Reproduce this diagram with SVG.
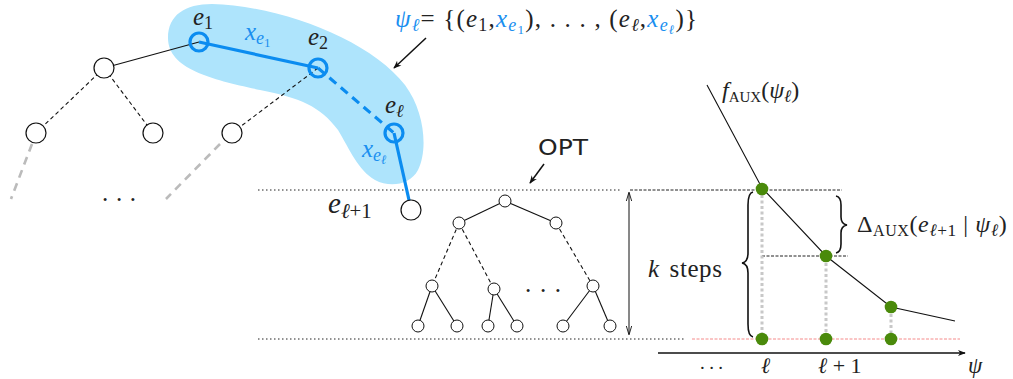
<svg xmlns="http://www.w3.org/2000/svg" width="1013" height="379" viewBox="0 0 1013 379">
<style>
text{font-family:"Liberation Serif","DejaVu Serif","Times New Roman",serif;fill:#222}
text.sans{font-family:"DejaVu Sans","Liberation Sans",sans-serif}
.i{font-style:italic}
.s{font-size:72%}
.bl{fill:#1a8ff0}
.blk{fill:#fff;stroke:#111;stroke-width:1.2}
.bn{fill:none;stroke:#0b8cf0;stroke-width:3.2}
.be{stroke:#0b8cf0;stroke-width:3.2;fill:none}
.te{stroke:#111;stroke-width:1.1;fill:none}
.dash{stroke-dasharray:4 3}
.gr{stroke:#bbb;stroke-width:2.6;stroke-dasharray:8 6;fill:none}
.gv{stroke:#c8c8c8;stroke-width:3;stroke-dasharray:3 2.5;fill:none}
.gd{fill:#4a8a0b}
.on{fill:#fff;stroke:#111;stroke-width:1}
</style>
<defs>
<marker id="ah" viewBox="0 0 10 10" refX="9" refY="5" markerWidth="8" markerHeight="8" orient="auto" markerUnits="userSpaceOnUse">
<path d="M0,1 L10,5 L0,9 L3,5 Z" fill="#111"/>
</marker>
<marker id="ah2" viewBox="0 0 10 10" refX="9" refY="5" markerWidth="9" markerHeight="9" orient="auto-start-reverse" markerUnits="userSpaceOnUse">
<path d="M0,2 L10,5 L0,8" fill="none" stroke="#111" stroke-width="1"/>
</marker>
</defs>

<!-- highlight blob -->
<path id="blob" d="M168,38 C168,15 185,4 212,4 C282,6 370,40 405,85 C425,112 428,150 418,170 C410,185 390,188 375,180 C358,170 350,150 338,130 C320,106 300,98 260,90 C215,80 168,70 168,38 Z" fill="#aee4fc"/>

<!-- reference lines -->
<g id="guides" fill="none">
<line x1="258" y1="190" x2="622" y2="190" stroke="#222" stroke-width="1" stroke-dasharray="1.5 2.5"/>
<line x1="630" y1="190" x2="842" y2="190" stroke="#222" stroke-width="1" stroke-dasharray="3 1.5"/>
<line x1="258" y1="339" x2="686" y2="339" stroke="#222" stroke-width="1" stroke-dasharray="1.5 2.5"/>
<line x1="692" y1="339" x2="960" y2="339" stroke="#f58a8a" stroke-width="1" stroke-dasharray="3 1.5"/>
<line x1="762" y1="256" x2="848" y2="256" stroke="#222" stroke-width="1" stroke-dasharray="3 1.5"/>
</g>

<g id="connectors">
<line class="te" x1="104" y1="68" x2="199" y2="42"/>
<line class="te dash" x1="104" y1="68" x2="36" y2="133"/>
<line class="te dash" x1="104" y1="68" x2="153" y2="133"/>
<line class="te dash" x1="318" y1="68" x2="232" y2="133"/>
<line class="gr" x1="32" y1="144" x2="11" y2="199"/>
<line class="gr" x1="220" y1="144" x2="166" y2="199"/>
<line class="be" x1="199" y1="42" x2="318" y2="68"/>
<line class="be" x1="318" y1="68" x2="394" y2="133" stroke-dasharray="9 6"/>
<line class="be" x1="394" y1="133" x2="411" y2="209"/>
<line class="te" x1="505" y1="201" x2="459" y2="223"/>
<line class="te" x1="505" y1="201" x2="556" y2="223"/>
<line class="te dash" x1="459" y1="223" x2="432" y2="286"/>
<line class="te dash" x1="459" y1="223" x2="494" y2="289"/>
<line class="te dash" x1="556" y1="223" x2="593" y2="286"/>
<line class="te" x1="432" y1="286" x2="418" y2="326"/>
<line class="te" x1="432" y1="286" x2="457" y2="326"/>
<line class="te" x1="494" y1="289" x2="488" y2="326"/>
<line class="te" x1="494" y1="289" x2="517" y2="326"/>
<line class="te" x1="593" y1="286" x2="563" y2="326"/>
<line class="te" x1="593" y1="286" x2="610" y2="326"/>
<line x1="426" y1="38" x2="394" y2="68" stroke="#111" stroke-width="1.5" marker-end="url(#ah)"/>
<line x1="544" y1="164" x2="530" y2="183" stroke="#111" stroke-width="1.5" marker-end="url(#ah)"/>
<line x1="629" y1="193" x2="629" y2="334" stroke="#111" stroke-width="1" marker-start="url(#ah2)" marker-end="url(#ah2)"/>
<line x1="658" y1="353" x2="965" y2="353" stroke="#111" stroke-width="1.3" marker-end="url(#ah)"/>
<polyline points="707,85 762,188 826,256 891,307 955,321" fill="none" stroke="#111" stroke-width="1.1"/>
<line class="gv" x1="762" y1="195" x2="762" y2="333"/>
<line class="gv" x1="826" y1="263" x2="826" y2="333"/>
<line class="gv" x1="891" y1="314" x2="891" y2="333"/>
<path d="M753,192 Q748,193 748,205 L748,253 Q748,262 742,263 Q748,264 748,273 L748,324 Q748,336 753,337" fill="none" stroke="#111" stroke-width="1.6"/>
<path d="M836,196 Q841,197 841,205 L841,217 Q841,224 847,225 Q841,226 841,233 L841,244 Q841,252 836,253" fill="none" stroke="#111" stroke-width="1.6"/>
</g>

<g id="n-root"><circle class="blk" cx="104" cy="68" r="10"/></g>
<g id="n-a"><circle class="blk" cx="36" cy="133" r="10"/></g>
<g id="n-b"><circle class="blk" cx="153" cy="133" r="10"/></g>
<g id="n-c"><circle class="blk" cx="232" cy="133" r="10"/></g>
<g id="n-e1"><circle class="bn" cx="199" cy="42" r="9"/></g>
<g id="n-e2"><circle class="bn" cx="318" cy="68" r="9"/></g>
<g id="n-el"><circle class="bn" cx="394" cy="133" r="9"/></g>
<g id="n-el1"><circle class="blk" cx="411" cy="210" r="10"/></g>

<g id="o1"><circle class="on" cx="505" cy="201" r="6"/></g>
<g id="o2"><circle class="on" cx="459" cy="223" r="6"/></g>
<g id="o3"><circle class="on" cx="556" cy="223" r="6"/></g>
<g id="o4"><circle class="on" cx="432" cy="286" r="6"/></g>
<g id="o5"><circle class="on" cx="494" cy="289" r="6"/></g>
<g id="o6"><circle class="on" cx="593" cy="286" r="6"/></g>
<g id="o7"><circle class="on" cx="418" cy="326" r="6"/></g>
<g id="o8"><circle class="on" cx="457" cy="326" r="6"/></g>
<g id="o9"><circle class="on" cx="488" cy="326" r="6"/></g>
<g id="o10"><circle class="on" cx="517" cy="326" r="6"/></g>
<g id="o11"><circle class="on" cx="563" cy="326" r="6"/></g>
<g id="o12"><circle class="on" cx="610" cy="326" r="6"/></g>

<g id="g1"><circle class="gd" cx="762" cy="189" r="6.3"/></g>
<g id="g2"><circle class="gd" cx="826" cy="256" r="6.3"/></g>
<g id="g3"><circle class="gd" cx="891" cy="307" r="6.3"/></g>
<g id="g4"><circle class="gd" cx="762" cy="339" r="6.3"/></g>
<g id="g5"><circle class="gd" cx="826" cy="339" r="6.3"/></g>
<g id="g6"><circle class="gd" cx="891" cy="339" r="6.3"/></g>

<g id="labels" font-size="25">
<text x="193" y="25"><tspan class="i">e</tspan><tspan class="s" dy="4">1</tspan></text>
<text x="245" y="40"><tspan class="i bl">x</tspan><tspan class="s i bl" dy="4">e</tspan><tspan class="bl" font-size="13" dy="3">1</tspan></text>
<text x="308" y="45"><tspan class="i">e</tspan><tspan class="s" dy="4">2</tspan></text>
<text x="385" y="113"><tspan class="i">e</tspan><tspan class="s i" dy="4">ℓ</tspan></text>
<text x="362" y="157"><tspan class="i bl">x</tspan><tspan class="s i bl" dy="4">e</tspan><tspan class="i bl" font-size="13" dy="3">ℓ</tspan></text>
<text x="328" y="213" font-size="29"><tspan class="i">e</tspan><tspan class="s i" dy="5">ℓ</tspan><tspan class="s">+1</tspan></text>
<text x="102" y="201" textLength="34" lengthAdjust="spacing">...</text>

<text x="395" y="27" textLength="302" lengthAdjust="spacing"><tspan class="i bl">ψ</tspan><tspan class="s i bl" dy="4">ℓ</tspan><tspan dy="-4">= {(</tspan><tspan class="i">e</tspan><tspan class="s" dy="4">1</tspan><tspan dy="-4">,</tspan><tspan class="i bl">x</tspan><tspan class="s i bl" dy="4">e</tspan><tspan class="bl" font-size="13" dy="3">1</tspan><tspan dy="-7">), . . . , (</tspan><tspan class="i">e</tspan><tspan class="s i" dy="4">ℓ</tspan><tspan dy="-4">,</tspan><tspan class="i bl">x</tspan><tspan class="s i bl" dy="4">e</tspan><tspan class="i bl" font-size="13" dy="3">ℓ</tspan><tspan dy="-7">)}</tspan></text>

<text class="sans" x="538" y="155" font-size="21" textLength="50" lengthAdjust="spacingAndGlyphs">OPT</text>
<text x="525" y="292" textLength="36" lengthAdjust="spacing">...</text>

<text x="722" y="98" font-size="24"><tspan class="i">f</tspan><tspan font-size="15" dy="4">AUX</tspan><tspan dy="-4">(</tspan><tspan class="i">ψ</tspan><tspan class="s i" dy="4">ℓ</tspan><tspan dy="-4">)</tspan></text>
<text x="857" y="232" font-size="24" letter-spacing="0.6">Δ<tspan font-size="16" dy="4">AUX</tspan><tspan dy="-4">(</tspan><tspan class="i">e</tspan><tspan class="s i" dy="4">ℓ</tspan><tspan class="s">+1</tspan><tspan dy="-4"> | </tspan><tspan class="i">ψ</tspan><tspan class="s i" dy="4">ℓ</tspan><tspan dy="-4">)</tspan></text>
<text x="648" y="277" font-size="25" word-spacing="3" letter-spacing="0.6"><tspan class="i">k</tspan> steps</text>
<text x="700" y="369" font-size="19" textLength="23" lengthAdjust="spacing">...</text>
<text x="761" y="373" font-size="22" class="i">ℓ</text>
<text x="818" y="373" font-size="22"><tspan class="i">ℓ</tspan> + 1</text>
<text x="968" y="373" font-size="23" class="i">ψ</text>
</g>
</svg>
